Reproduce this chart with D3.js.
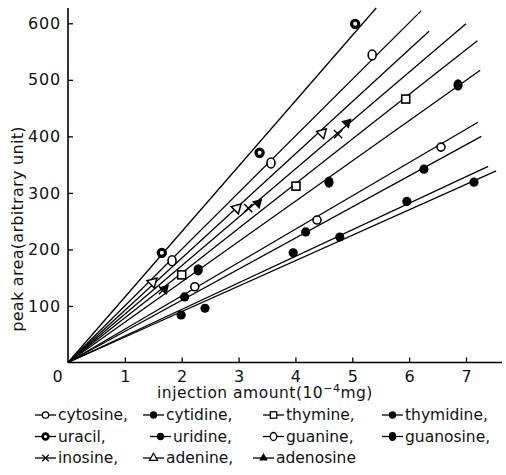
<!DOCTYPE html>
<html>
<head>
<meta charset="utf-8">
<script src="https://cdn.jsdelivr.net/npm/d3@7"></script>
<style>
  body { margin: 0; background: #fff; }
  text { font-family: "DejaVu Sans", sans-serif; fill: #111; }
</style>
</head>
<body>
<div id="chart"></div>
<script>
// data: [injection amount (1e-4 mg), peak area]
var uracil    = [[1.65, 194], [3.37, 371], [5.05, 599]];
var guanine   = [[1.83, 180], [3.57, 353], [5.35, 544]];
var adenine   = [[1.49, 142], [2.97, 273], [4.47, 406]];
var inosine   = [[1.67, 128], [3.17, 273], [4.75, 404]];
var adenosine = [[1.70, 130], [3.34, 282], [4.91, 424]];
var thymine   = [[2.00, 155], [4.01, 312], [5.94, 466]];
var guanosine = [[2.29, 164], [4.59, 319], [6.86, 491]];
var cytosine  = [[2.23, 134], [4.38, 252], [6.56, 381]];
var uridine   = [[2.05, 116], [4.18, 231], [6.26, 342]];
var thymidine = [[1.99, 84], [3.96, 194], [5.96, 285]];
var cytidine  = [[2.41, 96], [4.78, 222], [7.14, 319]];

// fitted lines through the origin, end points
var lineEndX = [5.42, 6.21, 6.35, 7.00, 7.20, 7.25, 7.21, 7.27, 7.39, 7.53];
var lineEndY = [627, 622, 586, 599, 569, 517, 425, 400, 347, 339];

var xTicks = [0, 1, 2, 3, 4, 5, 6, 7];
var yTicks = [100, 200, 300, 400, 500, 600];

var svgWidth = 506;
var svgHeight = 475;

var svg = d3.select("#chart").append("svg")
    .attr("width", svgWidth)
    .attr("height", svgHeight);

var x = d3.scaleLinear().domain([0, 7]).range([68, 466]);
var y = d3.scaleLinear().domain([0, 600]).range([362.5, 23.3]);

// marker drawing
function marker(g, kind, upright) {
  var sym = function(type, size) { return d3.symbol().type(type).size(size)(); };
  var rot = upright ? "rotate(0)" : "rotate(165)";
  if (kind == "uracil") {
    g.append("circle").attr("r", 3.6).attr("fill", "#fff").attr("stroke", "#000").attr("stroke-width", 3.2);
  } else if (kind == "guanine") {
    g.append("ellipse").attr("rx", 4).attr("ry", 5).attr("fill", "#fff").attr("stroke", "#000").attr("stroke-width", 1.6);
  } else if (kind == "cytosine") {
    g.append("circle").attr("r", 4).attr("fill", "#fff").attr("stroke", "#000").attr("stroke-width", 1.6);
  } else if (kind == "thymine") {
    g.append("rect").attr("x", -4).attr("y", -4).attr("width", 8).attr("height", 8)
      .attr("fill", "#fff").attr("stroke", "#000").attr("stroke-width", 1.6);
  } else if (kind == "adenine") {
    g.append("path").attr("d", sym(d3.symbolTriangle, 45)).attr("transform", rot)
      .attr("fill", "#fff").attr("stroke", "#000").attr("stroke-width", 1.5);
  } else if (kind == "inosine") {
    g.append("path").attr("d", sym(d3.symbolTimes, 45)).attr("fill", "none")
      .attr("stroke", "#000").attr("stroke-width", 1.5);
  } else if (kind == "adenosine") {
    g.append("path").attr("d", sym(d3.symbolTriangle, 50)).attr("transform", rot)
      .attr("fill", "#000");
  } else if (kind == "guanosine") {
    g.append("ellipse").attr("rx", 4.6).attr("ry", 5.6).attr("fill", "#000");
  } else {
    g.append("circle").attr("r", 4.6).attr("fill", "#000");
  }
}

// axes
var xAxis = svg.append("g")
    .attr("transform", "translate(0," + y(0) + ")")
    .call(d3.axisBottom(x).tickValues(xTicks).tickSize(-5).tickPadding(8).tickFormat(d3.format("d")));
xAxis.select(".domain").attr("d", "M" + x(0) + ",0H502").attr("stroke-width", 1.6);
xAxis.selectAll(".tick line").attr("stroke-width", 1.3);
xAxis.selectAll(".tick text").style("font-size", "16px").style("font-family", "DejaVu Sans");
xAxis.selectAll(".tick").filter(function(d) { return d == 0; })
    .select("text").attr("dx", -11);
xAxis.selectAll(".tick").filter(function(d) { return d == 0; })
    .select("line").remove();

var yAxis = svg.append("g")
    .attr("transform", "translate(" + x(0) + ",0)")
    .call(d3.axisLeft(y).tickValues(yTicks).tickSize(-5).tickPadding(7));
yAxis.select(".domain").attr("d", "M0," + y(0) + "V8").attr("stroke-width", 1.6);
yAxis.selectAll(".tick line").attr("stroke-width", 1.3);
yAxis.selectAll(".tick text").style("font-size", "16px").style("font-family", "DejaVu Sans")
    .style("letter-spacing", "0.8px");

// fitted lines
var lines = svg.append("g");
lineEndX.forEach(function(ex, i) {
  lines.append("line")
    .attr("x1", x(0)).attr("y1", y(0))
    .attr("x2", x(ex)).attr("y2", y(lineEndY[i]))
    .attr("stroke", "#000")
    .attr("stroke-width", 1.3);
});

// points
var series = [
  ["uracil", uracil], ["guanine", guanine], ["adenine", adenine], ["inosine", inosine],
  ["adenosine", adenosine], ["thymine", thymine], ["guanosine", guanosine],
  ["cytosine", cytosine], ["uridine", uridine], ["thymidine", thymidine], ["cytidine", cytidine]
];
series.forEach(function(s) {
  s[1].forEach(function(p) {
    var g = svg.append("g").attr("transform", "translate(" + x(p[0]) + "," + y(p[1]) + ")");
    marker(g, s[0], false);
  });
});

// axis titles
svg.append("text")
    .attr("transform", "translate(23,229) rotate(-90)")
    .attr("text-anchor", "middle")
    .style("font-size", "16px")
    .style("letter-spacing", "0.3px")
    .text("peak area(arbitrary unit)");

var xt = svg.append("text")
    .attr("x", 157).attr("y", 398)
    .style("font-size", "15.5px")
    .style("letter-spacing", "0.5px");
xt.append("tspan").text("injection amount(10");
xt.append("tspan").attr("dy", -6).style("font-size", "11px").text("−4");
xt.append("tspan").attr("dy", 6).text("mg)");

// legend
var legendRows = [
  [["cytosine", "cytosine,", 35], ["cytidine", "cytidine,", 143], ["thymine", "thymine,", 263], ["thymidine", "thymidine,", 382]],
  [["uracil", "uracil,", 35], ["uridine", "uridine,", 150], ["guanine", "guanine,", 263], ["guanosine", "guanosine,", 382]],
  [["inosine", "inosine,", 35], ["adenine", "adenine,", 143], ["adenosine", "adenosine", 253]]
];
var rowY = [420, 441.5, 463];
legendRows.forEach(function(row, r) {
  row.forEach(function(item) {
    var lx = item[2], ly = rowY[r] - 5;
    svg.append("line").attr("x1", lx).attr("x2", lx + 21).attr("y1", ly).attr("y2", ly)
      .attr("stroke", "#000").attr("stroke-width", 1.3);
    var g = svg.append("g").attr("transform", "translate(" + (lx + 10.5) + "," + ly + ") scale(0.8)");
    marker(g, item[0], true);
    svg.append("text").attr("x", lx + 23).attr("y", rowY[r])
      .style("font-size", "15.5px").text(item[1]);
  });
});
</script>
</body>
</html>
